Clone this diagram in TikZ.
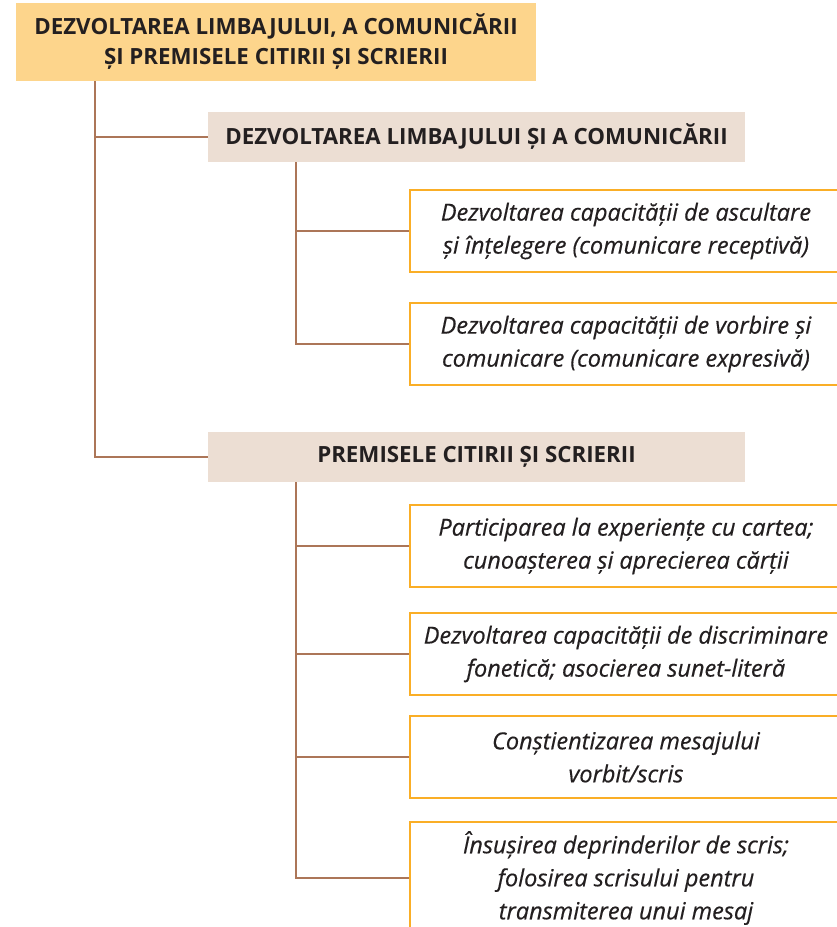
\documentclass[tikz,border=0pt]{standalone}
\usepackage{fontspec}
\setmainfont{Open Sans}
\newfontfamily\leaffont[FakeBold=0.4]{Open Sans}
\usetikzlibrary{positioning}
\definecolor{rootfill}{RGB}{253,213,140}
\definecolor{headfill}{RGB}{236,222,211}
\definecolor{leafline}{RGB}{250,174,38}
\definecolor{linkcol}{RGB}{172,118,88}
\definecolor{txt}{RGB}{35,31,32}

\begin{document}
\begin{tikzpicture}[
    x=1pt, y=-1pt,
    every node/.style={
        text=txt,
        inner sep=0pt,
        align=center
    },
    rootbox/.style={fill=rootfill, minimum width=520pt, minimum height=78pt,
        font=\fontsize{22.3}{30}\selectfont\bfseries},
    headbox/.style={fill=headfill, minimum width=537pt, minimum height=50pt,
        font=\fontsize{22.3}{30}\selectfont\bfseries},
    leafbox/.style={draw=leafline, line width=2.2pt, fill=white,
        minimum width=432pt, minimum height=82pt,
        font=\fontsize{23.5}{33}\leaffont\itshape},
    link/.style={draw=linkcol, line width=1.4pt}
]
\clip (0,0) rectangle (837,927);
\node[rootbox] (root) at (276,42)
    {DEZVOLTAREA LIMBAJULUI, A COMUNICĂRII\\ȘI PREMISELE CITIRII ȘI SCRIERII};
\node[headbox] (lang) at (476.5,137) {DEZVOLTAREA LIMBAJULUI ȘI A COMUNICĂRII};
\node[headbox] (read) at (476.5,457) {PREMISELE CITIRII ȘI SCRIERII};

\node[leafbox] (listen) at (626,231)
    {Dezvoltarea capacității de ascultare\\și înțelegere (comunicare receptivă)};
\node[leafbox] (speak) at (626,344)
    {Dezvoltarea capacității de vorbire și\\comunicare (comunicare expresivă)};

\node[leafbox] (book) at (626,546)
    {Participarea la experiențe cu cartea;\\cunoașterea și aprecierea cărții};
\node[leafbox] (sound) at (626,654)
    {Dezvoltarea capacității de discriminare\\fonetică; asocierea sunet-literă};
\node[leafbox] (aware) at (626,757)
    {Conștientizarea mesajului\\vorbit/scris};
\node[leafbox, minimum height=112pt] (write) at (626,878)
    {Însușirea deprinderilor de scris;\\folosirea scrisului pentru\\transmiterea unui mesaj};

% connectors
\coordinate (t0) at (95,81);
\coordinate (t1) at (296,162);
\coordinate (t2) at (296,482);
\draw[link] (t0) |- (lang.west);
\draw[link] (t0) |- (read.west);
\draw[link] (t1) |- (listen.west);
\draw[link] (t1) |- (speak.west);
\draw[link] (t2) |- (book.west);
\draw[link] (t2) |- (sound.west);
\draw[link] (t2) |- (aware.west);
\draw[link] (t2) |- (write.west);
\end{tikzpicture}
\end{document}
